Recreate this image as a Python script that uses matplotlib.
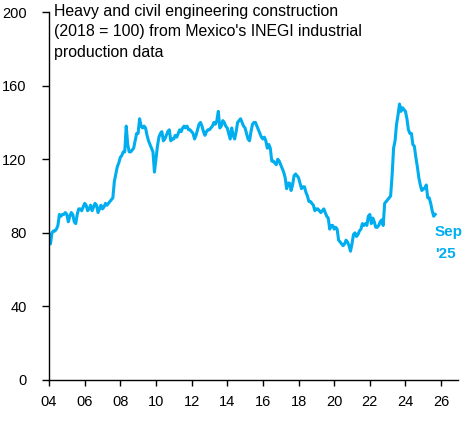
import matplotlib
matplotlib.use("Agg")
import matplotlib.pyplot as plt
import numpy as np

# monthly index values, Jan 2004 .. Sep 2025
y2004 = [79, 74, 80, 81, 81, 82, 84, 90, 89, 90, 90, 91]
y2005 = [90, 86, 89, 91, 90, 86, 85, 90, 93, 93, 92, 94]
y2006 = [96, 95, 92, 93, 95, 92, 94, 96, 95, 91, 93, 95]
y2007 = [93, 94, 96, 95, 96, 97, 98, 99, 108, 112, 116, 118]
y2008 = [121, 122, 124, 124, 138, 128, 124, 124, 125, 126, 130, 134]
y2009 = [134, 142, 138, 137, 138, 137, 133, 130, 128, 126, 124, 113]
y2010 = [120, 127, 132, 134, 135, 130, 131, 133, 135, 136, 130, 131]
y2011 = [131, 133, 132, 134, 136, 135, 137, 138, 137, 138, 136, 136]
y2012 = [135, 134, 131, 133, 136, 139, 140, 138, 135, 133, 135, 136]
y2013 = [136, 137, 138, 140, 139, 141, 146, 137, 138, 141, 140, 138]
y2014 = [137, 134, 131, 137, 133, 131, 135, 140, 141, 142, 140, 138]
y2015 = [137, 134, 131, 130, 135, 139, 140, 140, 138, 136, 134, 132]
y2016 = [131, 132, 130, 126, 128, 126, 119, 119, 118, 117, 120, 119]
y2017 = [117, 115, 113, 110, 104, 107, 107, 103, 106, 111, 112, 111]
y2018 = [110, 107, 104, 105, 105, 102, 100, 97, 97, 96, 95, 92]
y2019 = [93, 93, 92, 91, 92, 93, 91, 89, 88, 82, 84, 84]
y2020 = [82, 83, 82, 76, 75, 74, 73, 74, 76, 75, 73, 70]
y2021 = [74, 79, 80, 78, 79, 81, 82, 85, 84, 85, 84, 89]
y2022 = [90, 85, 88, 86, 83, 83, 84, 86, 87, 84, 96, 97]
y2023 = [98, 99, 100, 111, 126, 130, 139, 144, 150, 146, 148, 147]
y2024 = [146, 142, 136, 134, 134, 128, 127, 121, 116, 110, 106, 103]
y2025 = [104, 104, 106, 99, 99, 96, 92, 89, 90]

values = (y2004 + y2005 + y2006 + y2007 + y2008 + y2009 + y2010 + y2011
          + y2012 + y2013 + y2014 + y2015 + y2016 + y2017 + y2018 + y2019
          + y2020 + y2021 + y2022 + y2023 + y2024 + y2025)
years = 2004 + np.arange(len(values)) / 12

tick_years = list(range(2004, 2027, 2))
tick_labels = [f"{y % 100:02d}" for y in tick_years]
title = ("Heavy and civil engineering construction\n"
         "(2018 = 100) from Mexico's INEGI industrial\n"
         "production data")
end_label = "Sep\n'25"

blue = "#00AEEF"
plt.rcParams["font.family"] = ["Liberation Sans", "DejaVu Sans"]

fig = plt.figure(figsize=(4.68, 4.21), dpi=100)
ax = fig.add_axes([0.1047, 0.0974, 0.874, 0.874])

ax.plot(years, values, color=blue, lw=2.2, solid_joinstyle="round")

ax.set_xlim(2004, 2026.95)
ax.set_ylim(0, 200)
ax.set_yticks(range(0, 201, 40))
ax.set_xticks(tick_years)
ax.set_xticklabels(tick_labels)

for s in ["top", "right"]:
    ax.spines[s].set_visible(False)
for s in ["left", "bottom"]:
    ax.spines[s].set_linewidth(1.0)
    ax.spines[s].set_color("black")

ax.tick_params(axis="y", length=5, width=1, labelsize=10.5, pad=11)
ax.tick_params(axis="x", length=4, width=1, labelsize=10.5, pad=7)

ax.text(0.012, 1.022, title, transform=ax.transAxes, ha="left", va="top",
        fontsize=11.4, linespacing=1.45)
ax.text(2025.66, 84, end_label, ha="left", va="top", color=blue,
        fontsize=11, fontweight="bold", linespacing=1.7)

fig.savefig("out.png", dpi=100)
